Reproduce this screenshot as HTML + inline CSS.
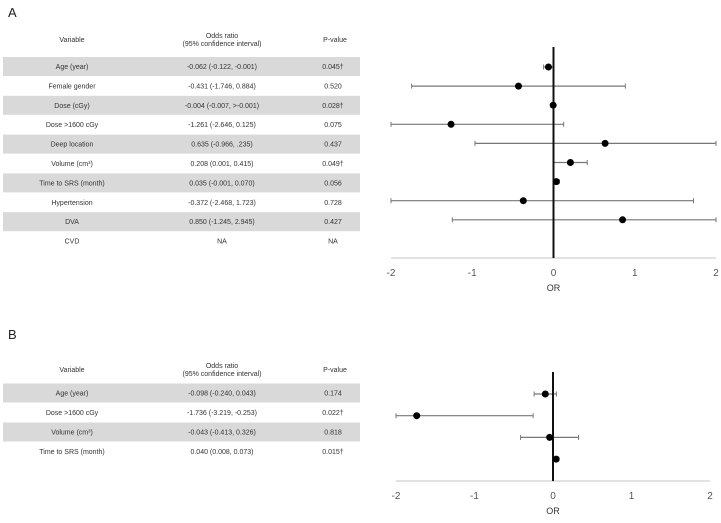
<!DOCTYPE html>
<html><head><meta charset="utf-8"><style>
body{margin:0;background:#fff;}
svg text{font-family:"Liberation Sans",sans-serif;}
</style></head><body>
<svg id="s" width="721" height="518" xmlns="http://www.w3.org/2000/svg">
<text x="8" y="17" font-size="13" fill="#222">A</text>
<text x="8" y="339" font-size="13" fill="#222">B</text>
<g id="ta"></g>
<g id="tb"></g>
<g id="ca"></g>
<g id="cb"></g>
</svg>
<script>
const varsA=["Age (year)","Female gender","Dose (cGy)","Dose >1600 cGy","Deep location","Volume (cm³)","Time to SRS (month)","Hypertension","DVA","CVD"];
const orTextA=["-0.062 (-0.122, -0.001)","-0.431 (-1.746, 0.884)","-0.004 (-0.007, >-0.001)","-1.261 (-2.646, 0.125)","0.635 (-0.966, .235)","0.208 (0.001, 0.415)","0.035 (-0.001, 0.070)","-0.372 (-2.468, 1.723)","0.850 (-1.245, 2.945)","NA"];
const pA=["0.045†","0.520","0.028†","0.075","0.437","0.049†","0.056","0.728","0.427","NA"];
const estA=[-0.062,-0.431,-0.004,-1.261,0.635,0.208,0.035,-0.372,0.850];
const loA=[-0.122,-1.746,-0.007,-2.646,-0.966,0.001,-0.001,-2.468,-1.245];
const hiA=[-0.001,0.884,-0.001,0.125,2.235,0.415,0.070,1.723,2.945];
const varsB=["Age (year)","Dose >1600 cGy","Volume (cm³)","Time to SRS (month)"];
const orTextB=["-0.098 (-0.240, 0.043)","-1.736 (-3.219, -0.253)","-0.043 (-0.413, 0.326)","0.040 (0.008, 0.073)"];
const pB=["0.174","0.022†","0.818","0.015†"];
const estB=[-0.098,-1.736,-0.043,0.040];
const loB=[-0.240,-3.219,-0.413,0.008];
const hiB=[0.043,-0.253,0.326,0.073];
const ticks=[-2,-1,0,1,2];
const NS="http://www.w3.org/2000/svg";
function mk(p,t,a,txt){const e=document.createElementNS(NS,t);for(const k in a)e.setAttribute(k,a[k]);if(txt!==undefined)e.textContent=txt;p.appendChild(e);return e;}
function table(g,vars,ors,ps,hy,y0,pitch){
  let t=mk(g,'text',{x:72,y:hy,'font-size':7,'text-anchor':'middle',fill:'#333'},'Variable');
  
  t=mk(g,'text',{x:222,y:hy-4,'font-size':7,'text-anchor':'middle',fill:'#333'},'Odds ratio');
  
  t=mk(g,'text',{x:222,y:hy+4,'font-size':7,'text-anchor':'middle',fill:'#333'},'(95% confidence interval)');
  
  t=mk(g,'text',{x:335,y:hy,'font-size':7,'text-anchor':'middle',fill:'#333'},'P-value');
  
  vars.forEach((v,i)=>{
    const cy=y0+i*pitch;
    if(i%2===0){const r=mk(g,'rect',{x:3,y:cy-9.5,width:357,height:19,fill:'#d9d9d9'});
      }
    let a=mk(g,'text',{x:72,y:cy+2.5,'font-size':7,'text-anchor':'middle',fill:'#333'},v);
    
    a=mk(g,'text',{x:222,y:cy+2.5,'font-size':7,'text-anchor':'middle',fill:'#333'},ors[i]);
    
    a=mk(g,'text',{x:333,y:cy+2.5,'font-size':7,'text-anchor':'middle',fill:'#333'},ps[i]);
    
  });
}
function chart(g,est,lo,hi,x0,x1,ax,zt,y0,pitch){
  const sx=v=>x0+(v+2)/4*(x1-x0);
  const cl=v=>Math.max(-2,Math.min(2,v));
  let l=mk(g,'line',{x1:x0,x2:x1,y1:ax,y2:ax,stroke:'#d0d0d0','stroke-width':1.2});
  
  ticks.forEach(t=>{const e=mk(g,'text',{x:sx(t),y:ax+18,'font-size':10,'text-anchor':'middle',fill:'#555'},String(t));
    });
  let o=mk(g,'text',{x:sx(0),y:ax+33,'font-size':9,'text-anchor':'middle',fill:'#333'},'OR');
  
  est.forEach((v,i)=>{
    const cy=y0+i*pitch,a=sx(cl(lo[i])),b=sx(cl(hi[i]));
    let e=mk(g,'line',{x1:a,x2:b,y1:cy,y2:cy,stroke:'#777','stroke-width':1.2});
    
    [a,b].forEach(x=>{const c=mk(g,'line',{x1:x,x2:x,y1:cy-2.5,y2:cy+2.5,stroke:'#777','stroke-width':1});
      });
  });
  l=mk(g,'line',{x1:sx(0),x2:sx(0),y1:zt,y2:ax,stroke:'#111','stroke-width':2});
  
  est.forEach((v,i)=>{
    const c=mk(g,'circle',{cx:sx(v),cy:y0+i*pitch,r:3.5,fill:'#000'});
    
  });
}
table(document.getElementById('ta'),varsA,orTextA,pA,42,66.5,19.4);
table(document.getElementById('tb'),varsB,orTextB,pB,372,393,19.5);
chart(document.getElementById('ca'),estA,loA,hiA,391,716,258,47,67,19.1);
chart(document.getElementById('cb'),estB,loB,hiB,396,710,481,372,394,21.7);
</script>
</body></html>
